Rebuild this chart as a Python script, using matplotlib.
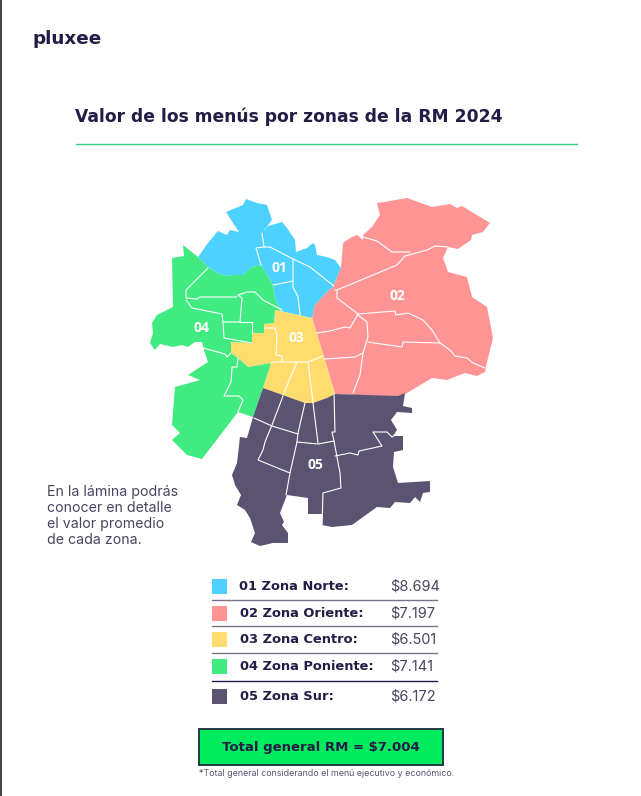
import matplotlib
matplotlib.use("Agg")
import matplotlib.pyplot as plt
from matplotlib.patches import Polygon, Rectangle

zone_labels = ["01 Zona Norte:", "02 Zona Oriente:", "03 Zona Centro:", "04 Zona Poniente:", "05 Zona Sur:"]
zone_values = ["$8.694", "$7.197", "$6.501", "$7.141", "$6.172"]
zone_colors = ["#4DD2FF", "#FF9494", "#FFDC6E", "#41EB82", "#5A5372"]
zone_codes = ["01", "02", "03", "04", "05"]
code_xy = [(279, 268), (397, 296), (296, 338), (201, 328), (315, 465)]

norte = [(198,257),(208,243),(218,231),(227,235),(230,230),(239,232),(226,212),(243,205),(246,199),(257,203),(267,205),(272,220),(262,233),(268,226),(282,222),(287,228),(295,240),(296,252),(307,248),(313,243),(315,245),(317,255),(327,257),(335,260),(341,268),(333,287),(327,292),(315,305),(312,318),(275,310),(282,311),(275,300),(273,285),(267,275),(261,265),(252,267),(243,275),(233,275),(226,276),(217,273),(208,267)]
oriente = [(363,235),(372,227),(380,215),(377,203),(384,202),(407,198),(432,207),(450,204),(457,208),(462,206),(490,223),(483,232),(472,235),(471,240),(458,249),(448,247),(443,258),(448,272),(467,277),(472,297),(487,307),(493,338),(487,362),(485,372),(477,376),(465,373),(447,380),(432,378),(407,393),(400,397),(335,394),(324,357),(312,318),(315,305),(327,292),(333,287),(341,268),(343,243),(350,238),(357,235),(363,240)]
centro = [(275,310),(312,318),(324,357),(335,395),(327,398),(313,403),(305,403),(263,388),(271,363),(248,367),(238,358),(231,353),(231,342),(252,343),(252,333),(264,333),(264,324),(274,323)]
poniente = [(198,257),(183,245),(184,256),(172,258),(173,307),(157,315),(152,323),(153,333),(150,343),(155,350),(160,344),(173,347),(182,345),(188,347),(195,342),(202,342),(204,350),(208,362),(188,375),(200,380),(175,387),(172,425),(180,433),(172,440),(187,455),(202,459),(238,412),(253,417),(263,388),(271,363),(248,367),(238,358),(231,353),(231,342),(252,343),(252,333),(264,333),(264,324),(274,323),(275,310),(282,311),(275,300),(273,285),(267,275),(261,265),(252,267),(243,275),(233,275),(226,276),(217,273),(208,267)]
sur = [(263,388),(305,403),(313,403),(327,398),(335,394),(398,396),(405,393),(403,406),(412,408),(412,413),(397,412),(391,420),(397,430),(393,436),(403,436),(403,450),(394,452),(393,467),(398,483),(430,481),(430,492),(423,493),(420,502),(415,497),(410,503),(395,502),(390,508),(377,507),(363,517),(352,525),(332,527),(322,525),(323,514),(308,514),(308,498),(287,495),(280,513),(284,522),(282,525),(288,533),(288,543),(273,543),(260,546),(251,542),(255,533),(250,518),(245,510),(237,505),(241,495),(235,485),(232,475),(237,463),(240,437),(247,438),(253,417)]
zone_shapes = [norte, oriente, centro, poniente, sur]

comuna_borders = [
    [(262,233),(264,247),(256,248),(261,265)],
    [(264,247),(270,247),(293,259),(310,267),(334,286)],
    [(293,259),(293,287),(298,297),(300,315)],
    [(273,285),(293,281)],
    [(208,268),(186,290),(186,298),(197,299),(200,297),(237,297)],
    [(186,300),(192,308),(222,314),(223,322),(240,322),(242,298),(238,295),(247,292),(255,292),(263,300),(282,310)],
    [(223,322),(224,338),(252,343)],
    [(240,322),(252,322),(252,333)],
    [(203,348),(225,354),(227,357),(231,353)],
    [(238,358),(237,367),(232,367),(231,382),(224,396),(239,396),(243,400),(238,412)],
    [(363,237),(377,241),(392,252),(410,252)],
    [(335,290),(337,290),(397,265),(405,256),(427,250),(435,246),(448,247)],
    [(337,290),(337,298),(358,314),(395,311),(396,315),(408,313),(423,320),(432,330),(440,343),(450,350),(455,356),(467,358),(473,363),(485,368)],
    [(358,314),(350,328),(345,327),(330,331),(317,333)],
    [(358,315),(367,322),(368,337),(363,353),(360,375),(353,393)],
    [(368,342),(402,347),(403,342),(440,343)],
    [(363,353),(355,357),(324,359)],
    [(283,396),(272,425),(265,442),(263,450),(258,460),(290,473)],
    [(254,418),(272,426),(298,434)],
    [(305,403),(298,433),(297,442),(290,473),(286,495)],
    [(313,403),(318,443)],
    [(297,442),(318,444),(334,441),(337,457),(340,473),(341,488),(323,493),(322,525)],
    [(334,393),(335,432),(332,432),(334,441)],
    [(335,456),(350,453),(358,455),(359,451),(382,446),(373,432),(387,432),(392,437),(397,434)],
    [(265,328),(275,328),(277,335),(276,355),(282,356),(282,362),(275,362),(271,363)],
    [(282,362),(308,362),(323,356)],
    [(297,362),(283,395)],
    [(308,362),(313,402)],
]

INK = "#221C46"
fig = plt.figure(figsize=(6.41, 7.96), dpi=100)
ax = fig.add_axes([0, 0, 1, 1])
ax.set_xlim(0, 641)
ax.set_ylim(796, 0)
ax.axis("off")

ax.add_patch(Rectangle((0, 0), 2, 796, color="#444444", lw=0))
ax.text(32, 39, "pluxee", fontsize=13.2, fontweight="bold", family="DejaVu Sans", color=INK, va="center")
ax.text(75, 117, "Valor de los menús por zonas de la RM 2024", fontsize=12.3, fontweight="bold",
        family="DejaVu Sans", color=INK, va="center")
ax.plot([76, 577], [143.5, 143.5], color="#3CCB85", lw=1)

for shape, color in zip(zone_shapes, zone_colors):
    ax.add_patch(Polygon(shape, closed=True, facecolor=color, edgecolor="none", lw=0))
for line in comuna_borders:
    ax.plot(*zip(*line), color="white", lw=0.8, solid_capstyle="round")
for code, (x, y) in zip(zone_codes, code_xy):
    ax.text(x, y, code, color="white", fontsize=10, fontweight="bold", family="Open Sans", ha="center", va="center")

note = ["En la lámina podrás", "conocer en detalle", "el valor promedio", "de cada zona."]
for line, y in zip(note, [492, 508, 524, 540]):
    ax.text(47, y, line, fontsize=10.2, family="Inter", color="#4A4560", va="center")

sq_top = [579, 606, 632, 659, 689]
label_x = [239, 240, 240, 240, 240]
for i, (lab, val, col) in enumerate(zip(zone_labels, zone_values, zone_colors)):
    ax.add_patch(Rectangle((212, sq_top[i]), 15, 15, facecolor=col, lw=0))
    ax.text(label_x[i], sq_top[i] + 7.5, lab, fontsize=9.4, fontweight="bold", family="DejaVu Sans",
            color=INK, va="center")
    ax.text(390, sq_top[i] + 7.5, val, fontsize=10.5, family="Inter", color="#4A4560", va="center")
for y, c in zip([600, 626, 653, 681], ["#77748A", "#77748A", "#77748A", INK]):
    ax.plot([212, 437], [y, y], color=c, lw=1)

ax.add_patch(Rectangle((199, 729), 244, 36, facecolor="#00EB5E", edgecolor="#1F3A45", lw=1.4))
ax.text(321, 747, "Total general RM = $7.004", fontsize=9.5, fontweight="bold", family="DejaVu Sans",
        color=INK, ha="center", va="center")
ax.text(327, 774, "*Total general considerando el menú ejecutivo y económico.", fontsize=6.4, family="Inter",
        color="#5A5670", ha="center", va="center")

fig.savefig("out.png", dpi=100, facecolor="white")
